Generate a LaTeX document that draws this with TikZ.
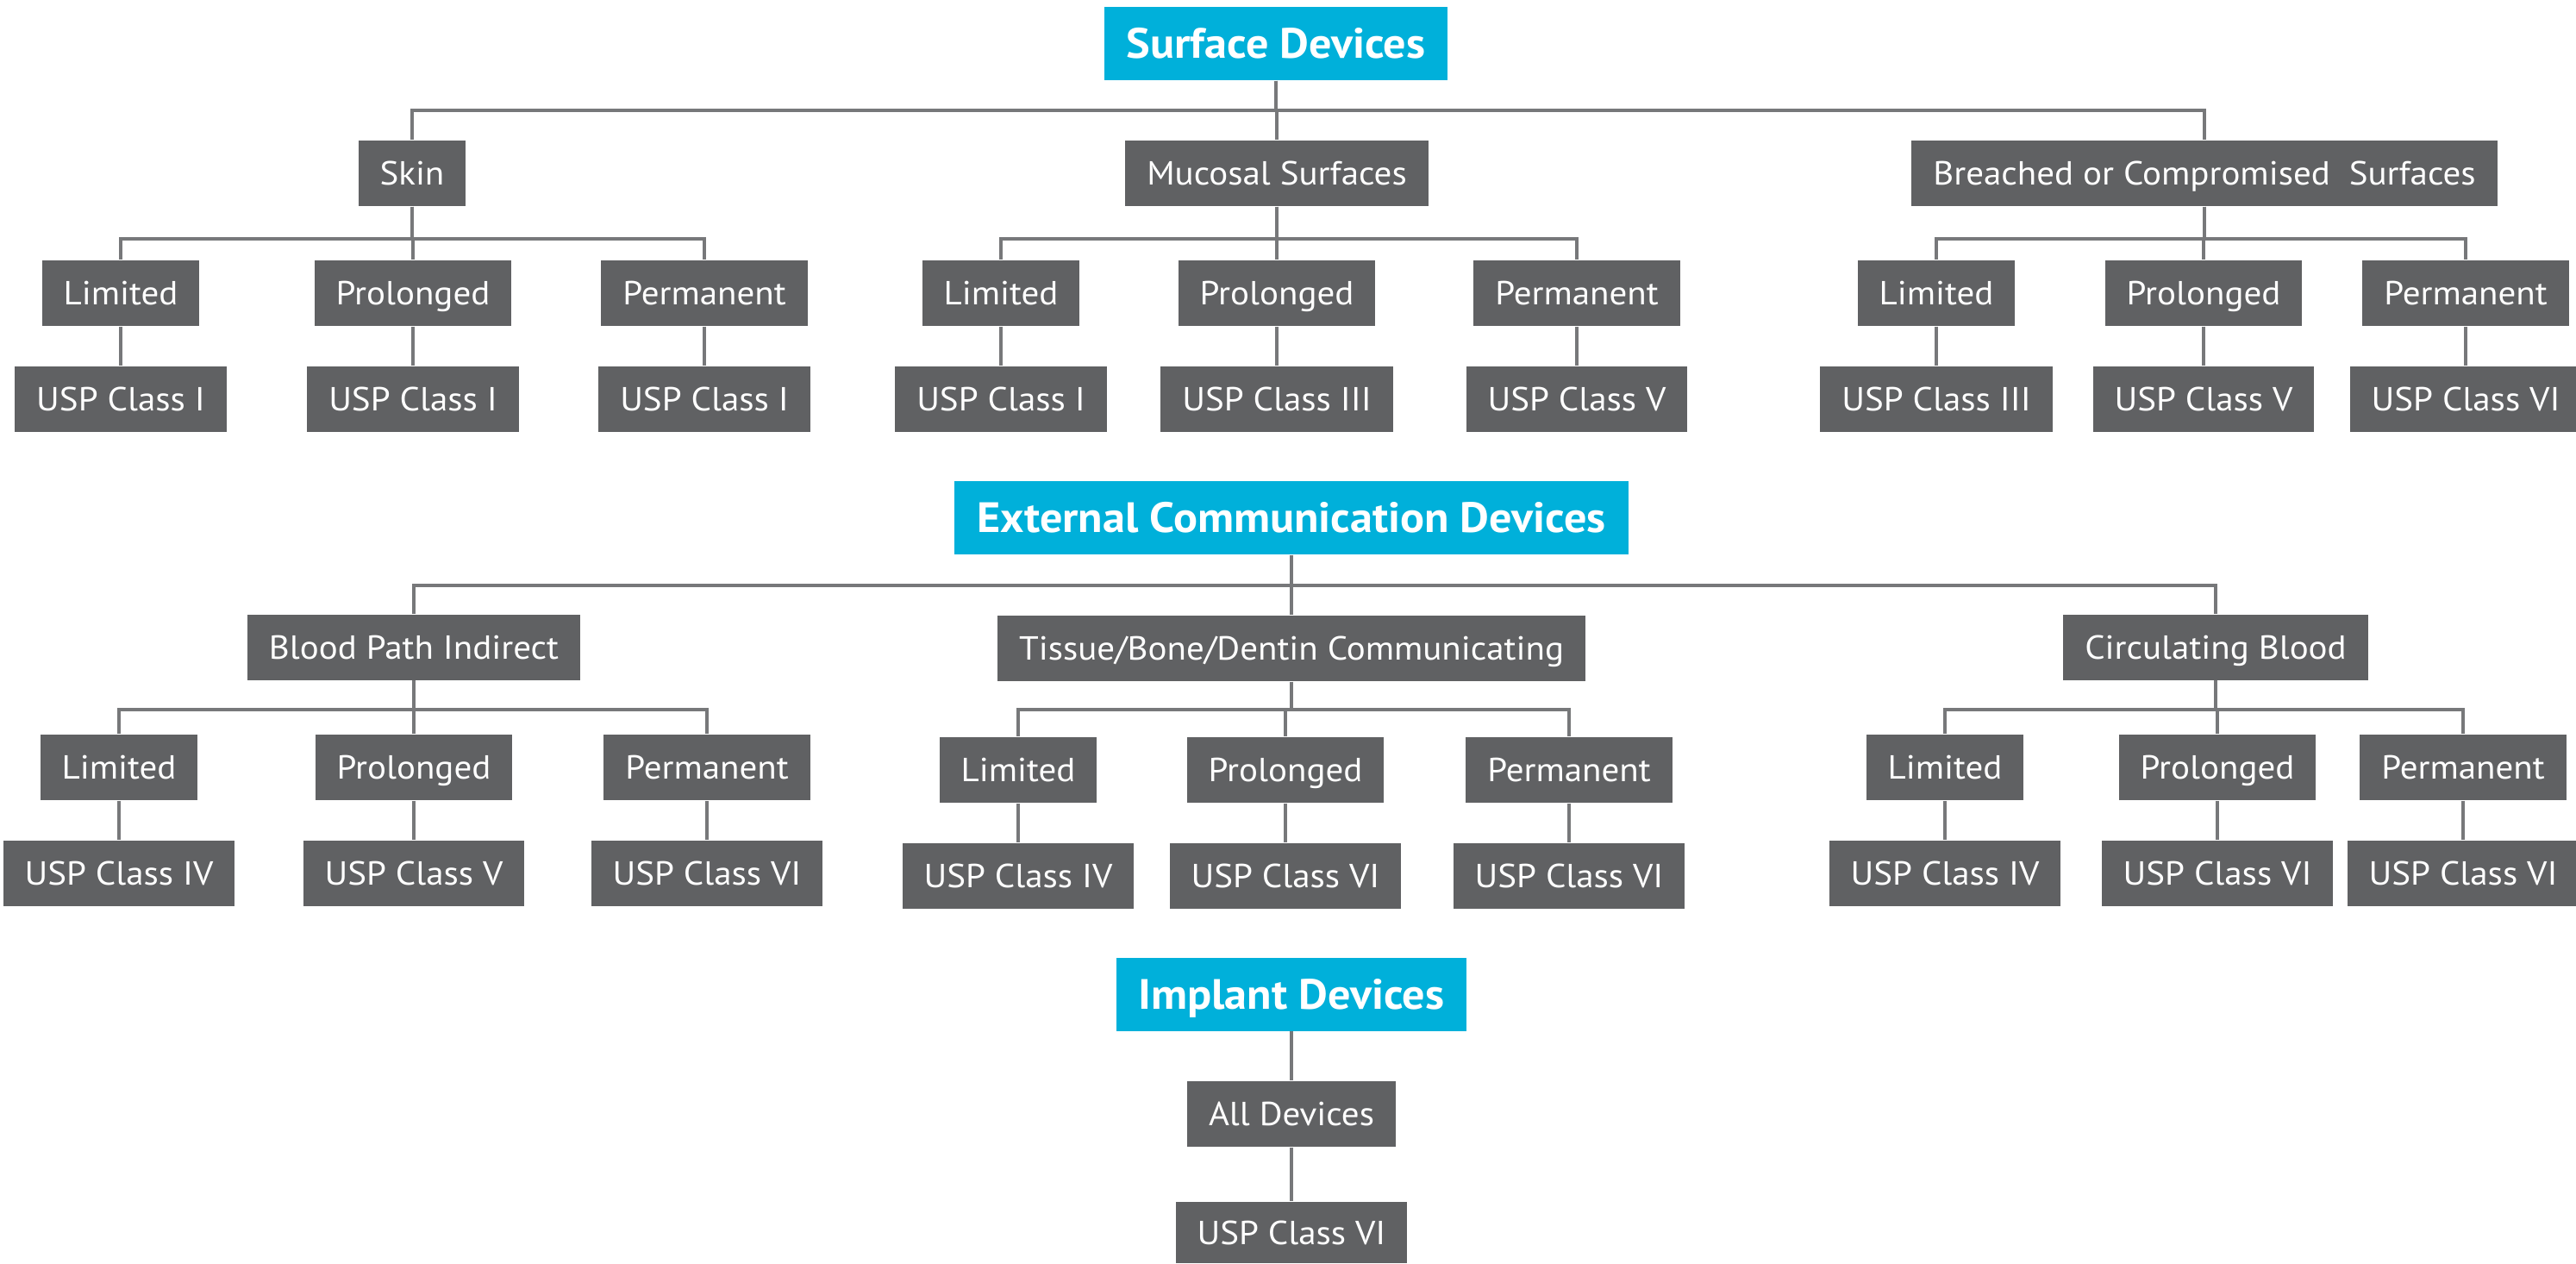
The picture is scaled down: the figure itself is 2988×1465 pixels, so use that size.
\documentclass[tikz,border=0pt]{standalone}
\usepackage{fontspec}
\setmainfont{PT Sans}[FakeStretch=1.06]
\definecolor{headblue}{HTML}{00B0DA}
\definecolor{catgray}{HTML}{606163}
\definecolor{linegray}{HTML}{77787A}
\tikzset{
  cat/.style={fill=catgray, text=white, inner xsep=0.25cm, inner ysep=0pt,
    minimum height=0.76cm, text height=7.7pt, text depth=0pt,
    font=\fontsize{11}{13}\selectfont},
  head/.style={fill=headblue, text=white, inner xsep=0.26cm, inner ysep=0pt,
    minimum height=0.85cm, text height=9.8pt, text depth=0pt,
    font=\fontsize{14}{16}\selectfont\bfseries},
  conn/.style={draw=linegray, line width=0.045cm}
}
\begin{document}
\begin{tikzpicture}[x=0.01cm, y=-0.01cm]
\useasboundingbox (0,0) rectangle (2988,1465);

% ---------- Surface devices ----------
\node[head] (sd) at (1480,50.5) {Surface Devices};
\node[cat] (skin) at (478,201) {Skin};
\node[cat] (muc) at (1481,201) {Mucosal Surfaces};
\node[cat] (bre) at (2557,201) {Breached or Compromised~ Surfaces};

\node[cat] (skL) at (140,340) {Limited};
\node[cat] (skP) at (479,340) {Prolonged};
\node[cat] (skR) at (817,340) {Permanent};
\node[cat] (mcL) at (1161,340) {Limited};
\node[cat] (mcP) at (1481,340) {Prolonged};
\node[cat] (mcR) at (1829,340) {Permanent};
\node[cat] (brL) at (2246,340) {Limited};
\node[cat] (brP) at (2556,340) {Prolonged};
\node[cat] (brR) at (2860,340) {Permanent};

\node[cat] (skLu) at (140,463) {USP Class I};
\node[cat] (skPu) at (479,463) {USP Class I};
\node[cat] (skRu) at (817,463) {USP Class I};
\node[cat] (mcLu) at (1161,463) {USP Class I};
\node[cat] (mcPu) at (1481,463) {USP Class III};
\node[cat] (mcRu) at (1829,463) {USP Class V};
\node[cat] (brLu) at (2246,463) {USP Class III};
\node[cat] (brPu) at (2556,463) {USP Class V};
\node[cat] (brRu) at (2860,463) {USP Class VI};

\coordinate (busA) at (0,128);
\coordinate (busB) at (0,277);
\foreach \q in {skin,muc,bre}
  \draw[conn] (sd.south) |- (\q.north |- busA) -- (\q.north);
\foreach \p/\a/\b/\d in {skin/skL/skP/skR, muc/mcL/mcP/mcR, bre/brL/brP/brR}{
  \foreach \q in {\a,\b,\d}
    \draw[conn] (\p.south) |- (\q.north |- busB) -- (\q.north);
  \foreach \q in {\a,\b,\d}
    \draw[conn] (\q.south) -- (\q u.north);
}

% ---------- External communication devices ----------
\node[head] (ecd) at (1498,600.5) {External Communication Devices};
\node[cat] (bpi) at (480,750.5) {Blood Path Indirect};
\node[cat] (tbd) at (1498,752) {Tissue/Bone/Dentin Communicating};
\node[cat] (cib) at (2570,750.5) {Circulating Blood};

\node[cat] (bpL) at (138,890) {Limited};
\node[cat] (bpP) at (480,890) {Prolonged};
\node[cat] (bpR) at (820,890) {Permanent};
\node[cat] (tbL) at (1181,893) {Limited};
\node[cat] (tbP) at (1491,893) {Prolonged};
\node[cat] (tbR) at (1820,893) {Permanent};
\node[cat] (cbL) at (2256,890) {Limited};
\node[cat] (cbP) at (2572,890) {Prolonged};
\node[cat] (cbR) at (2857,890) {Permanent};

\node[cat] (bpLu) at (138,1013) {USP Class IV};
\node[cat] (bpPu) at (480,1013) {USP Class V};
\node[cat] (bpRu) at (820,1013) {USP Class VI};
\node[cat] (tbLu) at (1181,1016) {USP Class IV};
\node[cat] (tbPu) at (1491,1016) {USP Class VI};
\node[cat] (tbRu) at (1820,1016) {USP Class VI};
\node[cat] (cbLu) at (2256,1013) {USP Class IV};
\node[cat] (cbPu) at (2572,1013) {USP Class VI};
\node[cat] (cbRu) at (2857,1013) {USP Class VI};

\coordinate (busC) at (0,679);
\coordinate (busD) at (0,823);
\foreach \q in {bpi,tbd,cib}
  \draw[conn] (ecd.south) |- (\q.north |- busC) -- (\q.north);
\foreach \p/\a/\b/\d in {bpi/bpL/bpP/bpR, tbd/tbL/tbP/tbR, cib/cbL/cbP/cbR}{
  \foreach \q in {\a,\b,\d}
    \draw[conn] (\p.south) |- (\q.north |- busD) -- (\q.north);
  \foreach \q in {\a,\b,\d}
    \draw[conn] (\q.south) -- (\q u.north);
}

% ---------- Implant devices ----------
\node[head] (imp) at (1498,1153) {Implant Devices};
\node[cat] (all) at (1498,1292) {All Devices};
\node[cat, minimum height=0.71cm] (allu) at (1498,1429.5) {USP Class VI};
\draw[conn] (imp.south) -- (all.north);
\draw[conn] (all.south) -- (allu.north);
\end{tikzpicture}
\end{document}
